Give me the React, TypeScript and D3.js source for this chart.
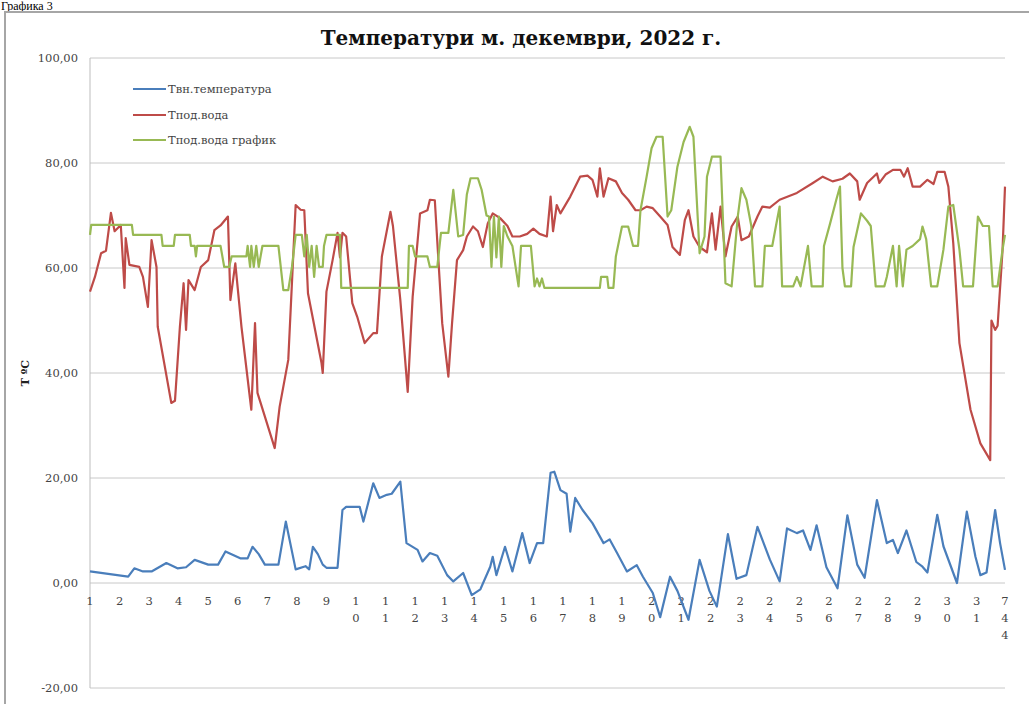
import React from "react";
import * as d3 from "d3";

// hourly series for December 2022 (hour index 0..743), read as [hour, value] vertices
const outdoorTemp: [number, number][] = [
  [0, 2.2], [31, 1.2], [36, 2.8], [43, 2.2], [50, 2.2], [62, 3.8], [71, 2.8], [78, 3], [85, 4.4],
  [96, 3.5], [104, 3.5], [110, 6], [122, 4.7], [128, 4.7], [132, 6.9], [137, 5.5], [142, 3.5],
  [153, 3.5], [159, 11.7], [167, 2.6], [175, 3.2], [178, 2.6], [181, 6.9], [185, 5.5], [189, 3.5],
  [192, 2.9], [201, 2.9], [205, 13.9], [208, 14.5], [214, 14.5], [219, 14.5], [222, 11.7],
  [230, 19], [235, 16.2], [241, 16.8], [245, 17], [252, 19.3], [257, 7.6], [266, 6.3], [270, 4.1],
  [276, 5.7], [282, 5.2], [290, 1.5], [295, 0.3], [303, 1.9], [310, -2.3], [317, -1.2], [325, 3.1],
  [327, 5], [330, 1.5], [337, 6.9], [343, 2.2], [351, 9.5], [357, 3.8], [363, 7.6], [368, 7.6],
  [374, 21], [377, 21.2], [382, 17.7], [387, 17], [390, 9.8], [394, 16.2], [400, 13.9],
  [408, 11.4], [417, 7.6], [422, 8.3], [428, 5.7], [436, 2.2], [444, 3.4], [449, 1.2], [457, -1.9],
  [463, -6.5], [471, 1.2], [477, -1.5], [486, -7], [495, 4.4], [503, -1.5], [509, -4.5],
  [518, 9.3], [525, 0.8], [533, 1.5], [542, 10.7], [552, 4.5], [560, 0.3], [566, 10.4],
  [574, 9.5], [579, 10], [585, 6.3], [590, 11], [598, 3], [607, -1], [615, 12.9], [623, 3.5],
  [629, 1], [639, 15.8], [647, 7.6], [652, 8.2], [656, 5.7], [663, 10], [671, 4], [676, 3.1],
  [680, 2], [688, 13], [693, 7], [704, 0], [712, 13.6], [719, 5], [723, 1.5], [728, 2],
  [735, 13.9], [739, 7.6], [743, 2.5],
];

const supplyTemp: [number, number][] = [
  [0, 55.5], [4, 58.3], [9, 62.8], [13, 63.3], [17, 70.5], [20, 67], [25, 68.2], [28, 56.2],
  [29, 65.7], [32, 60.6], [40, 60.2], [43, 58.3], [47, 52.6], [50, 65.3], [54, 60.2], [55, 48.8],
  [66, 34.3], [69, 34.7], [73, 48.8], [76, 57.1], [78, 48.2], [80, 57.7], [85, 55.8], [90, 60.2],
  [96, 61.5], [101, 67.2], [106, 68.1], [112, 69.8], [114, 53.9], [118, 60.9], [123, 48.8],
  [131, 33], [134, 49.5], [136, 36.2], [150, 25.7], [154, 33.6], [161, 42.5], [167, 72],
  [171, 71.1], [174, 71], [177, 55.2], [188, 41.9], [189, 40], [192, 55.5], [197, 61.5],
  [201, 66.7], [203, 62], [205, 66.7], [208, 66], [213, 53.3], [217, 50.7], [223, 45.7],
  [230, 47.6], [233, 47.6], [237, 62.2], [244, 70.7], [246, 68], [252, 53.9], [258, 36.4],
  [262, 54.5], [268, 70.4], [274, 71], [276, 73], [280, 72.9], [286, 49.5], [291, 39.3],
  [294, 49.5], [298, 61.5], [303, 63.4], [306, 66], [311, 67.9], [315, 67], [319, 64],
  [323, 68.5], [327, 70.4], [333, 69.5], [339, 68], [343, 66], [349, 66], [355, 66.5],
  [360, 67.5], [365, 66.5], [371, 66], [374, 73.6], [376, 67], [379, 72], [382, 70.4],
  [390, 73.6], [398, 77.4], [404, 77.6], [408, 76.8], [412, 73.6], [414, 79], [417, 73.6],
  [421, 77.1], [427, 76.5], [432, 74.3], [437, 73], [443, 71], [447, 71], [452, 71.7],
  [457, 71.4], [463, 69.8], [469, 68.2], [473, 64], [479, 62.5], [483, 69.1], [486, 71],
  [490, 66], [495, 64], [501, 63], [505, 70.4], [508, 63.5], [512, 71.7], [516, 62.2],
  [521, 67.9], [526, 69.8], [529, 65.3], [535, 66], [542, 69.8], [546, 71.7], [552, 71.5],
  [560, 73], [574, 74.3], [587, 76.2], [595, 77.4], [603, 76.5], [611, 77], [617, 78],
  [623, 76.5], [625, 73], [631, 76.2], [639, 78], [641, 76.2], [646, 77.8], [652, 78.7],
  [658, 78.7], [661, 77.4], [664, 79], [668, 75.5], [674, 75.5], [680, 76.8], [685, 76],
  [688, 78.3], [694, 78.3], [697, 75.5], [701, 64.7], [706, 45.7], [715, 33], [723, 26.6],
  [731, 23.4], [732, 50], [735, 48.2], [737, 49], [741, 63.4], [743, 75.5],
];

const supplySchedule: [number, number][] = [
  [0, 66.3], [1, 68.2], [34, 68.2], [35, 66.3], [58, 66.3], [59, 64.2], [68, 64.2], [69, 66.3],
  [81, 66.3], [82, 64.2], [85, 64.2], [86, 62.2], [87, 64.2], [106, 64.2], [109, 60.2],
  [113, 60.2], [115, 62.2], [127, 62.2], [128, 64.2], [130, 60.2], [131, 64.2], [133, 60.2],
  [135, 64.2], [137, 60.2], [140, 64.2], [153, 64.2], [157, 55.8], [161, 55.8], [164, 60.2],
  [167, 66.3], [172, 66.3], [174, 62.2], [176, 66.3], [178, 60.2], [180, 64.2], [182, 58.3],
  [184, 64.2], [186, 60.2], [189, 60.2], [190, 64.2], [192, 66.3], [203, 66.3], [204, 56.2],
  [258, 56.2], [259, 64.2], [262, 64.2], [264, 62.2], [274, 62.2], [276, 60.2], [282, 60.2],
  [285, 66.7], [291, 66.7], [295, 74.9], [299, 66], [303, 66.3], [306, 74], [309, 77.1],
  [315, 77.1], [318, 74.9], [322, 70], [324, 69.8], [326, 60.2], [328, 69.8], [330, 62],
  [332, 69.8], [334, 60.2], [336, 68], [339, 66], [343, 64.2], [348, 56.5], [350, 64.2],
  [358, 64.2], [361, 56.5], [363, 58], [365, 56.5], [367, 58], [369, 56.2], [414, 56.2],
  [415, 58.3], [420, 58.3], [421, 56.2], [425, 56.2], [427, 62.2], [432, 67.9], [437, 67.9],
  [441, 64.2], [445, 64.2], [447, 71], [452, 77.4], [456, 82.8], [460, 85], [465, 85],
  [469, 69.8], [472, 71], [477, 79.3], [482, 84], [487, 86.9], [490, 85], [495, 62.8],
  [499, 66], [501, 77.4], [505, 81.2], [512, 81.2], [516, 57.1], [521, 56.5], [526, 69.8],
  [529, 75.2], [533, 73], [537, 68], [540, 56.5], [546, 56.5], [548, 64.2], [554, 64.2],
  [557, 68], [560, 71.7], [562, 56.5], [571, 56.5], [574, 58.3], [577, 56.5], [583, 64.2],
  [586, 56.5], [595, 56.5], [596, 64.2], [601, 68.5], [606, 73], [609, 75.5], [611, 60],
  [613, 56.5], [618, 56.5], [620, 64], [626, 70.4], [631, 69], [634, 68], [638, 56.5],
  [645, 56.5], [647, 58.3], [652, 64.2], [655, 56.5], [657, 64.2], [660, 56.5], [663, 63.5],
  [668, 64.2], [674, 65.5], [676, 67.9], [679, 65.5], [683, 56.5], [688, 56.5], [693, 63.5],
  [697, 71.7], [701, 72], [706, 63.5], [709, 56.5], [717, 56.5], [721, 69.8], [725, 68],
  [730, 68], [733, 56.5], [737, 56.5], [741, 63.5], [743, 66.3],
];

const seriesNames = ["Твн.температура", "Тпод.вода", "Тпод.вода график"];
const seriesColors = ["#4a7ebb", "#be4b48", "#98b954"];
const yTicks = [-20, 0, 20, 40, 60, 80, 100];
const xTickLabels = [
  "1", "2", "3", "4", "5", "6", "7", "8", "9", "10", "11", "12", "13", "14", "15", "16",
  "17", "18", "19", "20", "21", "22", "23", "24", "25", "26", "27", "28", "29", "30", "31", "744",
];

const W = 1029;
const H = 704;
const margin = { top: 58, right: 24, bottom: 16, left: 90 };
const serif: React.CSSProperties = { fontFamily: "DejaVu Serif, serif" };
const times: React.CSSProperties = { fontFamily: "Liberation Serif, serif" };

const App: React.FC = () => {
  const x = d3.scaleLinear().domain([0, 743]).range([margin.left, W - margin.right]);
  const y = d3.scaleLinear().domain([-20, 100]).range([H - margin.bottom, margin.top]);
  const line = d3.line<[number, number]>().x((d) => x(d[0])).y((d) => y(d[1]));
  const series = [outdoorTemp, supplyTemp, supplySchedule];
  const fmt = (v: number) => v.toFixed(2).replace(".", ",");
  const tickHour = (i: number) => (i < 31 ? i * 24 : 743);

  return (
    <svg
      width={W}
      height={H}
      style={{ position: "absolute", left: 0, top: 0, background: "#fff" }}
    >
      <text x={1} y={10} fontSize={12} fill="#000" style={times}>Графика 3</text>
      <rect x={5} y={12} width={W + 20} height={H + 20} fill="none" stroke="#a6a6a6" strokeWidth={2} />

      <text x={521} y={45} textAnchor="middle" fontSize={20} fontWeight="bold" fill="#111" style={serif}>
        Температури м. декември, 2022 г.
      </text>

      {yTicks.map((t) => (
        <g key={t}>
          <line x1={x(0)} x2={x(743)} y1={y(t)} y2={y(t)} stroke="#c8c8c8" strokeWidth={1} />
          <text x={78} y={y(t) + 4} textAnchor="end" fontSize={11.5} fill="#444" style={serif}>{fmt(t)}</text>
        </g>
      ))}
      <line x1={x(0)} x2={x(0)} y1={y(100)} y2={y(-20)} stroke="#bdbdbd" strokeWidth={1} />

      {xTickLabels.map((lab, i) => (
        <text key={lab} x={x(tickHour(i))} y={605} textAnchor="middle" fontSize={11.5} fill="#444" style={serif}>
          {lab.split("").map((ch, k) => (
            <tspan key={k} x={x(tickHour(i))} dy={k === 0 ? 0 : 17}>{ch}</tspan>
          ))}
        </text>
      ))}

      <text
        transform={`translate(29,${y(40)}) rotate(-90)`}
        textAnchor="middle"
        fontSize={11}
        fontWeight="bold"
        fill="#222"
        style={serif}
      >
        T ºC
      </text>

      {series.map((s, i) => (
        <path key={i} d={line(s) ?? ""} fill="none" stroke={seriesColors[i]} strokeWidth={2.2} strokeLinejoin="round" />
      ))}

      {seriesNames.map((name, i) => {
        const ly = [89, 115, 140][i];
        return (
          <g key={name}>
            <line x1={133} x2={166} y1={ly} y2={ly} stroke={seriesColors[i]} strokeWidth={2.2} />
            <text x={168} y={ly + 4} fontSize={11.5} fill="#444" style={serif}>{name}</text>
          </g>
        );
      })}
    </svg>
  );
};

export default App;
